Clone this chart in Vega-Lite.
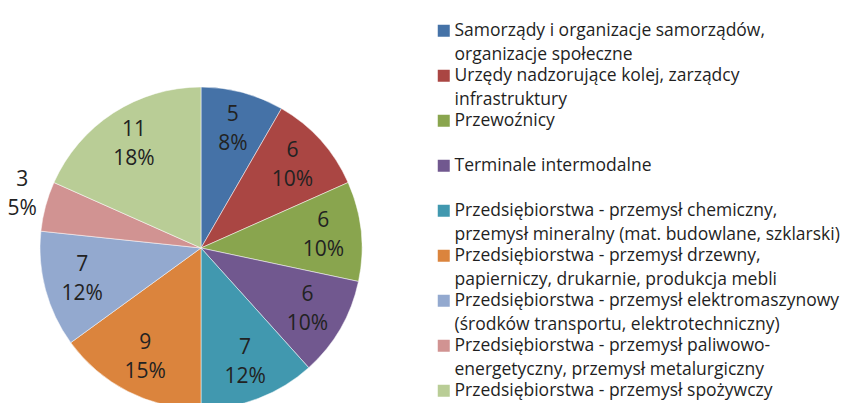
{
  "$schema": "https://vega.github.io/schema/vega-lite/v6.json",
  "width": 402,
  "height": 310,
  "autosize": {"type": "none"},
  "padding": {"left": 0, "top": 93, "right": 443, "bottom": 0},
  "background": "white",
  "config": {"view": {"stroke": null}, "style": {"guide-label": {"lineHeight": 24}}},
  "data": {
    "values": [
      {"k": 1, "name": "Samorządy i organizacje samorządów,|organizacje społeczne", "value": 5, "pct": "8%"},
      {"k": 2, "name": "Urzędy nadzorujące kolej, zarządcy|infrastruktury", "value": 6, "pct": "10%"},
      {"k": 3, "name": "Przewoźnicy|", "value": 6, "pct": "10%"},
      {"k": 4, "name": "Terminale intermodalne|", "value": 6, "pct": "10%"},
      {"k": 5, "name": "Przedsiębiorstwa - przemysł chemiczny,|przemysł mineralny (mat. budowlane, szklarski)", "value": 7, "pct": "12%"},
      {"k": 6, "name": "Przedsiębiorstwa - przemysł drzewny,|papierniczy, drukarnie, produkcja mebli", "value": 9, "pct": "15%"},
      {"k": 7, "name": "Przedsiębiorstwa - przemysł elektromaszynowy|(środków transportu, elektrotechniczny)", "value": 7, "pct": "12%"},
      {"k": 8, "name": "Przedsiębiorstwa - przemysł paliwowo-|energetyczny, przemysł metalurgiczny", "value": 3, "pct": "5%"},
      {"k": 9, "name": "Przedsiębiorstwa - przemysł spożywczy|", "value": 11, "pct": "18%"}
    ]
  },
  "encoding": {
    "theta": {"field": "value", "type": "quantitative", "stack": true},
    "order": {"field": "k", "type": "quantitative"}
  },
  "layer": [
    {
      "mark": {"type": "arc", "radius": 161, "stroke": "white", "strokeWidth": 0.5},
      "encoding": {
        "color": {
          "field": "name",
          "type": "nominal",
          "sort": null,
          "scale": {"range": ["#4572A7", "#AA4643", "#89A54E", "#71588F", "#4198AF", "#DB843D", "#93A9CF", "#D19392", "#B9CD96"]},
          "legend": {
            "orient": "none",
            "legendX": 435,
            "legendY": -71,
            "title": null,
            "symbolType": "square",
            "symbolSize": 144,
            "symbolStrokeWidth": 0,
            "labelFont": "Open Sans",
            "labelFontSize": 17.5,
            "labelColor": "#1f1f1f",
            "labelLimit": 600,
            "labelOffset": 2,
            "rowPadding": 2,
            "labelExpr": "split(datum.label, '|')"
          }
        }
      }
    },
    {
      "mark": {"type": "text", "radius": {"expr": "datum.value < 4 ? 185 : 123"}, "dy": {"expr": "datum.value < 4 ? -20.5 : -14.5"}, "font": "Open Sans", "fontSize": 21, "color": "#222222"},
      "encoding": {
        "detail": {"field": "name", "type": "nominal"},
        "text": {"field": "value", "type": "quantitative"}
      }
    },
    {
      "mark": {"type": "text", "radius": {"expr": "datum.value < 4 ? 185 : 123"}, "dy": {"expr": "datum.value < 4 ? 8.5 : 14.5"}, "font": "Open Sans", "fontSize": 21, "color": "#222222"},
      "encoding": {
        "detail": {"field": "name", "type": "nominal"},
        "text": {"field": "pct", "type": "nominal"}
      }
    }
  ]
}
